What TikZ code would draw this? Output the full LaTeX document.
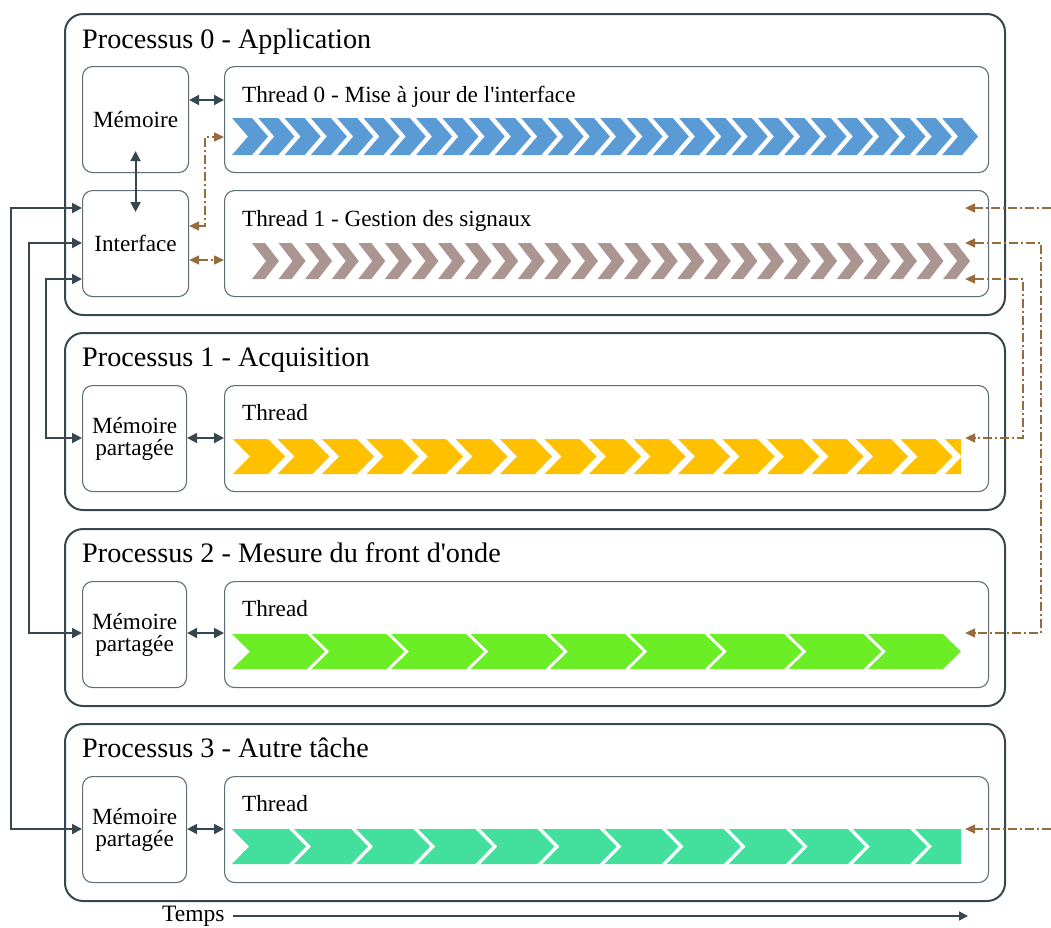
\documentclass[tikz,border=0pt]{standalone}
\usepackage{fontspec}
\setmainfont{Liberation Serif}
\usetikzlibrary{arrows.meta}
\definecolor{dk}{HTML}{37474F}
\definecolor{ibc}{HTML}{5E6E78}
\definecolor{brn}{HTML}{986B3D}
\definecolor{cblue}{HTML}{5B9BD5}
\definecolor{cmauve}{HTML}{AB9591}
\definecolor{cyellow}{HTML}{FFC000}
\definecolor{cgreen}{HTML}{6BEE25}
\definecolor{cteal}{HTML}{42E09C}
\newcommand\ttlfont{\fontsize{28.2}{30}\selectfont}
\newcommand\lblfont{\fontsize{23.2}{22}\selectfont}
\newcommand\mychevrow[8]{%
  \foreach \i in {1,...,#8}{%
    \pgfmathsetmacro\xx{#2+(\i-1)*#7}%
    \fill[#1] (\xx,#3) -- ++(#5,0) -- ++(#6,#4/2) -- ++(-#6,#4/2) -- ++(-#5,0) -- ++(#6,-#4/2) -- cycle;
  }}
\tikzset{
  proc/.style={draw=dk, line width=2pt, rounded corners=18pt, anchor=north west, inner sep=0pt},
  ibox/.style={draw=ibc, line width=1.1pt, rounded corners=10pt, anchor=north west, inner sep=0pt, align=center, font=\lblfont},
  ttl/.style={anchor=base west, font=\ttlfont, inner sep=0pt},
  tlbl/.style={anchor=base west, font=\lblfont, inner sep=0pt},
  dconn/.style={draw=dk, line width=2pt, >={Triangle[length=10pt,width=10pt]}},
  bconn/.style={draw=brn, line width=1.6pt, dash pattern=on 9pt off 3pt on 2pt off 3pt, >={Triangle[length=10pt,width=9pt]}},
}
\begin{document}
\begin{tikzpicture}[x=1pt,y=-1pt]
\path[use as bounding box] (0,0) rectangle (1051,927);

% Process boxes
\node[proc, minimum width=940pt, minimum height=301pt] (p0) at (64,13) {};
\node[proc, minimum width=940pt, minimum height=177pt] (p1) at (64,332) {};
\node[proc, minimum width=940pt, minimum height=177pt] (p2) at (64,528) {};
\node[proc, minimum width=940pt, minimum height=177pt] (p3) at (64,723) {};

\node[ttl] (t0) at (82,48) {Processus 0 - Application};
\node[ttl] (t1) at (82,366) {Processus 1 - Acquisition};
\node[ttl] (t2) at (82,562) {Processus 2 - Mesure du front d\textquotesingle onde};
\node[ttl] (t3) at (82,757) {Processus 3 - Autre tâche};

% Inner boxes
\node[ibox, minimum width=106pt, minimum height=106pt] (mem0) at (82,66) {Mémoire};
\node[ibox, minimum width=106pt, minimum height=106pt] (intf) at (82,190) {Interface};
\node[ibox, minimum width=104pt, minimum height=106pt] (mem1) at (82,385) {Mémoire\\partagée};
\node[ibox, minimum width=104pt, minimum height=106pt] (mem2) at (82,581) {Mémoire\\partagée};
\node[ibox, minimum width=104pt, minimum height=106pt] (mem3) at (82,776) {Mémoire\\partagée};

\node[ibox, minimum width=764pt, minimum height=106pt] (th0) at (224,66) {};
\node[ibox, minimum width=764pt, minimum height=106pt] (th1) at (224,190) {};
\node[ibox, minimum width=764pt, minimum height=106pt] (th2) at (224,385) {};
\node[ibox, minimum width=764pt, minimum height=106pt] (th3) at (224,581) {};
\node[ibox, minimum width=764pt, minimum height=106pt] (th4) at (224,776) {};

\node[tlbl] (l0) at (242,102) {Thread 0 - Mise à jour de l\textquotesingle interface};
\node[tlbl] (l1) at (242,226) {Thread 1 - Gestion des signaux};
\node[tlbl] (l2) at (242,420) {Thread};
\node[tlbl] (l3) at (242,616) {Thread};
\node[tlbl] (l4) at (242,811) {Thread};

% Chevron rows
\mychevrow{cblue}{232}{118}{37}{20}{16}{26.3}{28}
\mychevrow{cmauve}{252}{243}{36}{13}{14}{26.58}{27}
\begin{scope}
\clip (233,439) rectangle (961,474);
\mychevrow{cyellow}{233}{439}{35}{35}{17}{44.5}{17}
\end{scope}
\mychevrow{cgreen}{232}{634}{35}{75}{18}{79.5}{9}
\begin{scope}
\clip (232,829) rectangle (961,864);
\mychevrow{cteal}{232}{829}{35}{57}{17}{62.1}{12}
\end{scope}

% Dark connectors
\draw[dconn,<->] (mem0.east |- 0,100) -- (th0.west |- 0,100);
\draw[dconn,<->] ([yshift=22pt]mem0.south) -- ([yshift=-22pt]intf.north);
\draw[dconn,<->] (mem1.east |- 0,438) -- (th2.west |- 0,438);
\draw[dconn,<->] (mem2.east |- 0,633) -- (th3.west |- 0,633);
\draw[dconn,<->] (mem3.east |- 0,829) -- (th4.west |- 0,829);

\draw[dconn,<->] (intf.west |- 0,208) -- (11,208) -- (11,829) -- (mem3.west |- 0,829);
\draw[dconn,<->] (intf.west |- 0,243) -- (29,243) -- (29,633) -- (mem2.west |- 0,633);
\draw[dconn,<->] (intf.west |- 0,279) -- (46,279) -- (46,438) -- (mem1.west |- 0,438);

% Brown connectors
\draw[bconn,<->] (intf.east |- 0,226) -- (205,226) -- (205,137) -- (th0.west |- 0,137);
\draw[bconn,<->] (intf.east |- 0,260) -- (th1.west |- 0,260);

\coordinate (inA) at (1051,208);
\coordinate (inB) at (1051,829);
\draw[bconn,->] (inA) -- ([xshift=-24pt]th1.east |- inA);
\draw[bconn,->] (inB) -- ([xshift=-24pt]th4.east |- inB);
\draw[bconn,<->] ([xshift=-24pt]th1.east |- 0,243) -- (1041,243) -- (1041,633) -- ([xshift=-24pt]th3.east |- 0,633);
\draw[bconn,<->] ([xshift=-24pt]th1.east |- 0,279) -- (1023,279) -- (1023,438) -- ([xshift=-24pt]th2.east |- 0,438);

% Time axis
\node[anchor=west, inner sep=0pt, font=\fontsize{23.5}{24}\selectfont] (temps) at (162,916) {Temps};
\coordinate (tend) at (968,916);
\draw[draw=dk, line width=1.5pt, -{Triangle[length=9pt,width=9pt]}] ([xshift=8pt]temps.east) -- (tend);
\end{tikzpicture}
\end{document}
